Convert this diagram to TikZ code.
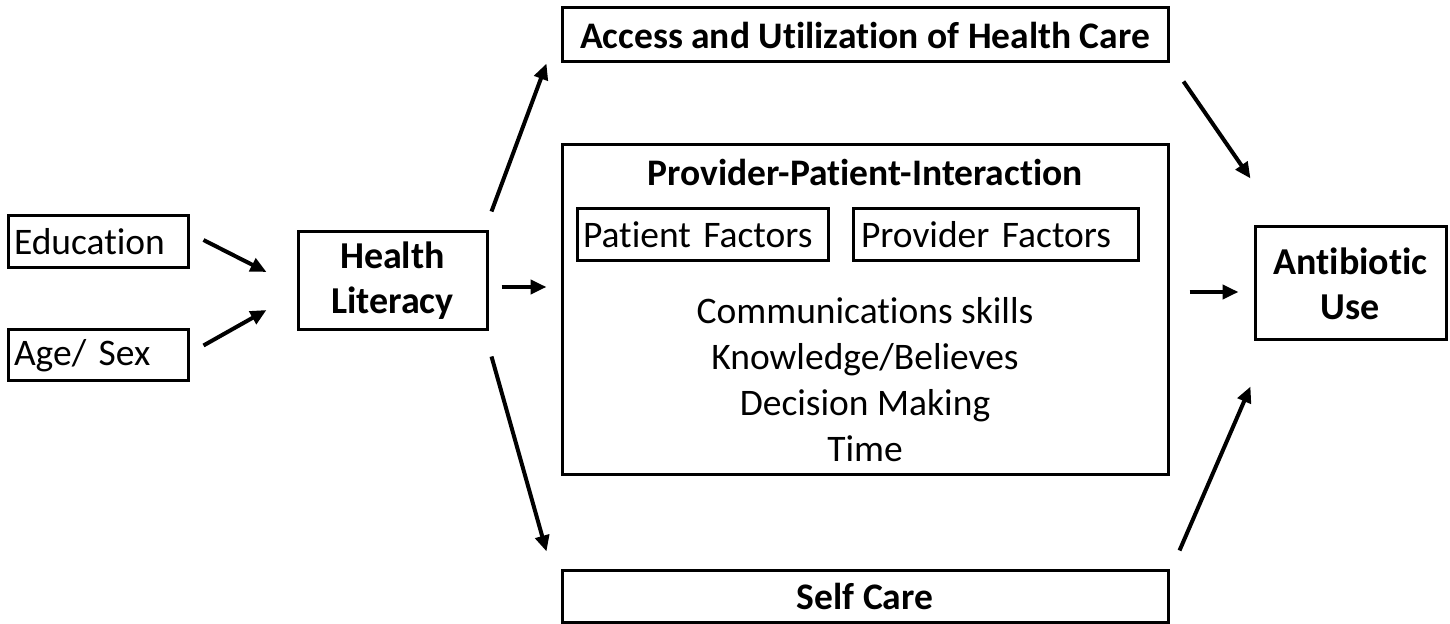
\documentclass[tikz,border=0pt]{standalone}
\usepackage{fontspec}
\setmainfont{Carlito}[RawFeature=-liga]
\usetikzlibrary{arrows.meta}
\tikzset{
  bx/.style={draw, line width=1.5pt, inner sep=0pt, align=center,
    font=\fontsize{18.75}{22.5}\selectfont},
  sz/.style 2 args={minimum width=#1*0.5pt, minimum height=#2*0.5pt},
  lbx/.style={bx, align=left, inner xsep=3pt, text width=#1*0.5pt-6pt},
  txt/.style={inner sep=0pt, align=center, font=\fontsize{18.75}{23}\selectfont},
  arr/.style={line width=2pt, -{Triangle[length=8pt, width=7pt]}}
}
\begin{document}
\begin{tikzpicture}[x=0.5pt, y=-0.5pt]
\useasboundingbox (0,0) rectangle (1450,624);
% left inputs
\node[lbx=180, sz={180}{52}] (edu) at (98,242) {Education};
\node[lbx=180, sz={180}{51}] (age) at (98,355.5) {Age/ Sex};
\node[bx, sz={189}{98}, font=\fontsize{19}{22.5}\selectfont\bfseries] (hl) at (392.5,281) {Health\\Literacy};
% middle
\node[bx, sz={606}{54}, font=\fontsize{18.75}{22.5}\selectfont\bfseries] (acc) at (865,35) {Access and Utilization of Health Care};
\node[bx, sz={606}{330}] (ppi) at (865,310) {};
\node[txt, font=\fontsize{18.75}{22.5}\selectfont\bfseries] (ppit) at (865,172) {Provider-Patient-Interaction};
\node[lbx=251, sz={251}{52}] (pat) at (702.5,235) {Patient Factors};
\node[lbx=285, sz={285}{52}, inner xsep=4pt, text width=285*0.5pt-8pt] (prov) at (995.5,235) {Provider Factors};
\node[txt] (body) at (865,380) {Communications skills\\Knowledge/Believes\\Decision Making\\Time};
\node[bx, sz={606}{52}, font=\fontsize{18.75}{22.5}\selectfont\bfseries] (self) at (865,596) {Self Care};
% output
\node[bx, sz={191}{113}, font=\fontsize{19}{22.5}\selectfont\bfseries] (anti) at (1350.5,283.5) {Antibiotic\\Use};
% arrows
\draw[arr] ([shift={(14,-2)}]edu.east) -- ([shift={(-30,-9)}]hl.west);
\draw[arr] ([shift={(14,-10)}]age.east) -- ([shift={(-30,29)}]hl.west);
\draw[arr] ([shift={(13,6)}]hl.east) -- ([shift={(-14,-23)}]ppi.west);
\draw[arr] ([shift={(3,-19)}]hl.north east) -- ([shift={(-14,0)}]acc.south west);
\draw[arr] ([shift={(3,25)}]hl.south east) -- ([shift={(-14,-17)}]self.north west);
\draw[arr] ([shift={(14,18)}]acc.south east) -- ([shift={(-3,-47)}]anti.north west);
\draw[arr] ([shift={(20,-18)}]ppi.east) -- ([shift={(-15,8.5)}]anti.west);
\draw[arr] ([shift={(10,-18)}]self.north east) -- ([shift={(-3,45)}]anti.south west);
\end{tikzpicture}
\end{document}
